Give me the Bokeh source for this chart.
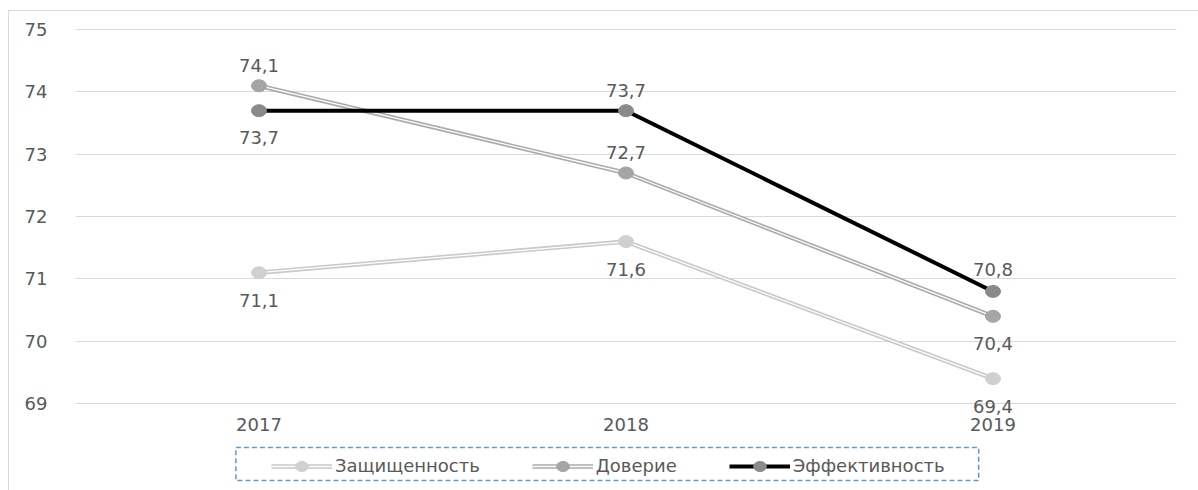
from bokeh.plotting import figure
from bokeh.models import (Range1d, FixedTicker, Legend, LegendItem,
                          BoxAnnotation, ColumnDataSource)
from bokeh.core.properties import value
from bokeh.embed import file_html
from bokeh.resources import INLINE

years = [2017, 2018, 2019]
year_labels = ["2017", "2018", "2019"]
zashch = [71.1, 71.6, 69.4]
doverie = [74.1, 72.7, 70.4]
effekt = [73.7, 73.7, 70.8]
y_ticks = [69, 70, 71, 72, 73, 74, 75]

FONT = "DejaVu Sans"
TXT = "#595959"
FS = "18px"

p = figure(width=1190, height=480, x_range=Range1d(2016.5, 2019.5),
           y_range=Range1d(67.59, 75.259), output_backend="svg",
           toolbar_location=None,
           min_border_left=66, min_border_right=23, min_border_top=2,
           min_border_bottom=0, margin=(10, 0, 0, 8),
           styles={"border-left": "1px solid #d9d9d9",
                   "border-top": "1px solid #d9d9d9"})
p.outline_line_color = None
p.background_fill_color = "white"
p.border_fill_color = "white"

p.xgrid.grid_line_color = None
p.ygrid.grid_line_color = "#d9d9d9"
p.ygrid.grid_line_width = 1.2
p.xaxis.visible = False
p.yaxis.ticker = FixedTicker(ticks=y_ticks)
ax = p.yaxis[0]
ax.axis_line_color = None
ax.major_tick_line_color = None
ax.minor_tick_line_color = None
ax.major_label_text_color = TXT
ax.major_label_text_font = FONT
ax.major_label_text_font_size = FS
ax.major_label_standoff = 22

# category labels under the lowest gridline
p.text(x=years, y=[y_ticks[0]] * len(years), text=year_labels, y_offset=21,
       text_align="center", text_baseline="middle", text_color=TXT,
       text_font=value(FONT), text_font_size=FS)


def series(vals, line_color, marker_color, double, lw):
    src = ColumnDataSource(dict(x=years, y=vals))
    rs = [p.line("x", "y", source=src, line_color=line_color, line_width=lw)]
    if double:
        rs.append(p.line("x", "y", source=src, line_color="white", line_width=1.3))
    rs.append(p.ellipse("x", "y", source=src, width=15, height=12,
                        width_units="screen", height_units="screen",
                        fill_color=marker_color, line_color=marker_color))
    return rs


r_z = series(zashch, "#c9c9c9", "#d0d0d0", True, 4.5)
r_d = series(doverie, "#ababab", "#a5a5a5", True, 4.5)
r_e = series(effekt, "black", "#8a8a8a", False, 4)


def labels(vals, offs):
    src = ColumnDataSource(dict(x=years, y=vals,
                                t=[f"{v:.1f}".replace(".", ",") for v in vals],
                                o=offs))
    p.text("x", "y", text="t", source=src, y_offset="o", text_align="center",
           text_baseline="middle", text_color=TXT, text_font=value(FONT),
           text_font_size=FS)


labels(zashch, [28, 28, 28])
labels(doverie, [-20, -20, 27])
labels(effekt, [27, -20, -22])

# dashed frame around the legend
p.add_layout(BoxAnnotation(left=2016.937, right=2018.961, top=68.294,
                           bottom=67.765, fill_alpha=0, line_color="#5b9bd5",
                           line_alpha=1, line_dash="5 3", line_width=1.5))

legend = Legend(items=[LegendItem(label="Защищенность", renderers=r_z),
                       LegendItem(label="Доверие", renderers=r_d),
                       LegendItem(label="Эффективность", renderers=r_e)],
                orientation="horizontal", location=(196, 15),
                label_text_font=FONT, label_text_font_size=FS,
                label_text_color=TXT, glyph_width=61, glyph_height=16,
                label_height=20, label_standoff=3, spacing=52, padding=0,
                margin=0, border_line_color=None,
                background_fill_alpha=0)
p.add_layout(legend, "center")

open("out.html", "w").write(file_html(p, INLINE))
